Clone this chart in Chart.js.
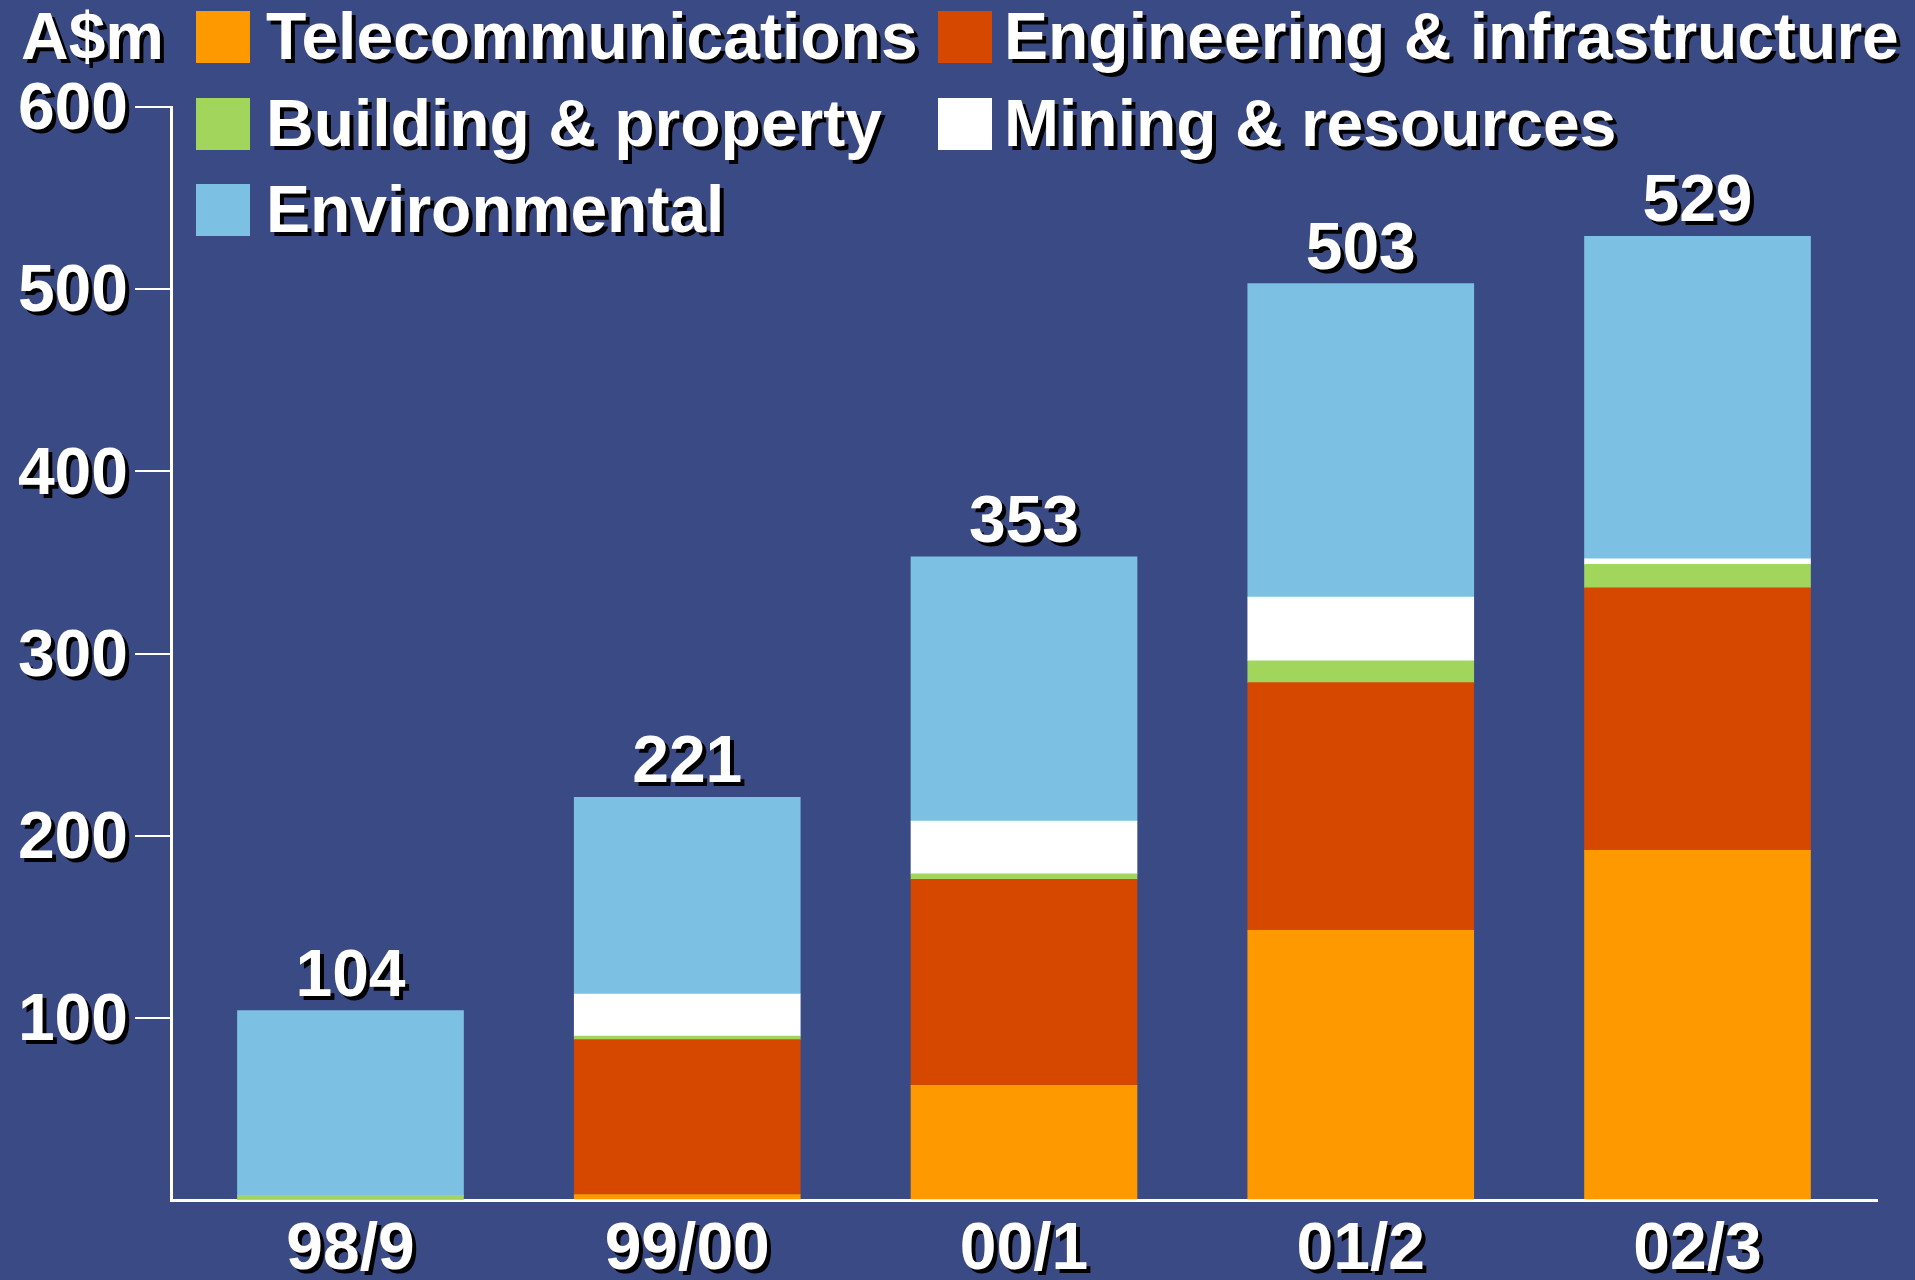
<!DOCTYPE html>
<html>
<head>
<meta charset="utf-8">
<title>Revenue by sector</title>
<script src="https://cdn.jsdelivr.net/npm/chart.js@4"></script>
<style>
  html, body { margin: 0; padding: 0; background: #3a4a85; }
  #wrap { width: 1915px; height: 1280px; }
</style>
</head>
<body>
<div id="wrap"><canvas id="chart-1" width="1915" height="1280"></canvas></div>
<script>
// values, A$m
const years = ['98/9', '99/00', '00/1', '01/2', '02/3'];
const telecom = [0, 3, 63, 148, 192];
const engineering = [0, 85, 113, 136, 144];
const building = [2.5, 2, 3, 12, 13];
const mining = [0, 23, 29, 35, 3];
const environmental = [101.5, 108, 145, 172, 177];
const totals = [104, 221, 353, 503, 529];
const yTicks = [100, 200, 300, 400, 500, 600];

const FONT = 'bold 66px "Liberation Sans", Arial, sans-serif';

function shadowText(ctx, text, x, y) {
  ctx.fillStyle = '#000';
  ctx.fillText(text, x + 4, y + 4);
  ctx.fillStyle = '#fff';
  ctx.fillText(text, x, y);
}

// bars sit on a numeric x so the outer gaps match the original
const points = arr => arr.map((v, i) => ({ x: i, y: v }));

// labels, totals and the two-column legend, drawn with a black drop shadow
const overlay = {
  id: 'overlay',
  afterDraw(chart) {
    const ctx = chart.ctx;
    const x = chart.scales.x, y = chart.scales.y;
    ctx.save();
    ctx.font = FONT;

    // y tick labels
    ctx.textAlign = 'right';
    ctx.textBaseline = 'middle';
    yTicks.forEach(v => shadowText(ctx, String(v), 128, y.getPixelForValue(v) + 4));

    // category labels
    ctx.textAlign = 'center';
    years.forEach((lab, i) => shadowText(ctx, lab, x.getPixelForValue(i), 1251));

    // totals above the bars
    ctx.textBaseline = 'alphabetic';
    totals.forEach((t, i) => shadowText(ctx, String(t), x.getPixelForValue(i), y.getPixelForValue(t) - 15));

    // unit
    ctx.textAlign = 'left';
    ctx.textBaseline = 'middle';
    shadowText(ctx, 'A$m', 21, 41);

    // legend
    const colX = [196, 938];
    const rowY = [39, 126, 212];
    chart.data.datasets.forEach((ds, i) => {
      const cx = colX[i % 2], cy = rowY[Math.floor(i / 2)];
      ctx.fillStyle = ds.backgroundColor;
      ctx.fillRect(cx, cy - 28, 54, 52);
      ctx.textAlign = 'left';
      shadowText(ctx, ds.label, cx + (i % 2 ? 66 : 70), cy + 2);
    });
    ctx.restore();
  }
};

const data1 = {
  datasets: [
    { label: 'Telecommunications', data: points(telecom), backgroundColor: '#ff9900' },
    { label: 'Engineering & infrastructure', data: points(engineering), backgroundColor: '#d64700' },
    { label: 'Building & property', data: points(building), backgroundColor: '#a2d55c' },
    { label: 'Mining & resources', data: points(mining), backgroundColor: '#ffffff' },
    { label: 'Environmental', data: points(environmental), backgroundColor: '#7cc1e4' }
  ]
};

const config1 = {
  type: 'bar',
  data: data1,
  options: {
    responsive: false,
    animation: false,
    devicePixelRatio: 1,
    layout: { padding: { left: 135, right: 38, top: 107, bottom: 80 } },
    datasets: { bar: { barThickness: 226, borderWidth: 0 } },
    plugins: { legend: { display: false }, tooltip: { enabled: false } },
    scales: {
      x: {
        type: 'linear',
        stacked: true,
        offset: false,
        min: -0.533,
        max: 4.533,
        grid: { display: false, drawTicks: false, tickLength: 0 },
        ticks: { display: false },
        border: { display: true, color: '#ffffff', width: 3 }
      },
      y: {
        stacked: true,
        min: 0,
        max: 600,
        ticks: { display: false, stepSize: 100 },
        grid: {
          drawOnChartArea: false,
          drawTicks: true,
          tickLength: 36,
          lineWidth: 2,
          color: c => (c.tick && c.tick.value === 0) ? 'rgba(0,0,0,0)' : '#ffffff'
        },
        border: { display: true, color: '#ffffff', width: 3 }
      }
    }
  },
  plugins: [overlay]
};

const ctx1 = document.getElementById('chart-1');
const chart1 = new Chart(ctx1, config1);
</script>
</body>
</html>
